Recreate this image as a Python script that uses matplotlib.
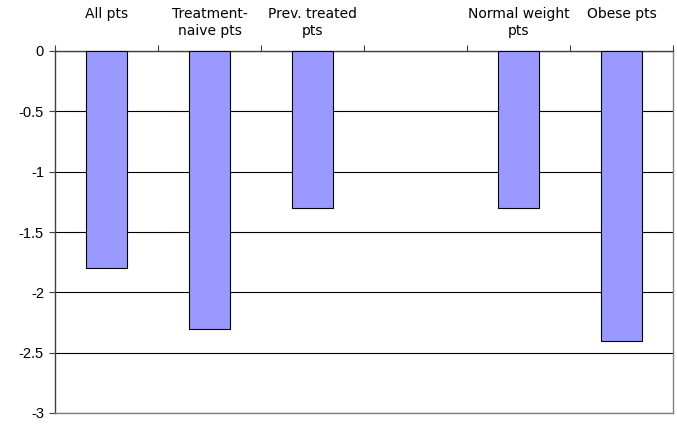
import matplotlib
matplotlib.use("Agg")
import matplotlib.pyplot as plt
import matplotlib.transforms as mtransforms
import numpy as np

categories = ["All pts", "Treatment-\nnaive pts", "Prev. treated\npts", "", "Normal weight\npts", "Obese pts"]
values = [-1.8, -2.3, -1.3, np.nan, -1.3, -2.4]
yticks = [0, -0.5, -1, -1.5, -2, -2.5, -3]
ytick_labels = ["0", "-0.5", "-1", "-1.5", "-2", "-2.5", "-3"]

fig = plt.figure(figsize=(6.77, 4.24), dpi=100)
ax = fig.add_axes([55/677, 1-413/424, (673-55)/677, (413-51)/424])

x = np.arange(len(categories))
ax.bar(x, values, width=0.39, color="#9999FF", edgecolor="black", linewidth=0.8, zorder=3)

ax.set_xlim(-0.5, len(categories) - 0.5)
ax.set_ylim(-3, 0)
ax.set_yticks(yticks)
ax.set_yticklabels(ytick_labels, family="Liberation Sans", fontsize=10.5)
ax.yaxis.grid(True, color="black", linewidth=0.8, zorder=0)
ax.tick_params(axis="y", direction="out", length=4, width=0.8, color="#404040", pad=4)

# x axis at top (y=0) with ticks at category boundaries
ax.xaxis.tick_top()
ax.set_xticks(np.arange(len(categories) + 1) - 0.5)
ax.set_xticklabels([])
ax.tick_params(axis="x", direction="out", length=4, width=0.8, color="#404040")

trans = mtransforms.blended_transform_factory(ax.transData, ax.transAxes)
for xi, lab in zip(x, categories):
    if lab:
        ax.text(xi, 1 + (51 - 7) / 362, lab, transform=trans, ha="center", va="top",
                fontsize=10, family="DejaVu Sans", linespacing=1.3)

ax.spines["top"].set_color("#404040")
ax.spines["left"].set_color("#404040")
ax.spines["bottom"].set_color("#808080")
ax.spines["right"].set_color("#808080")
for s in ax.spines.values():
    s.set_linewidth(1.0)

fig.savefig("out.png", dpi=100)
